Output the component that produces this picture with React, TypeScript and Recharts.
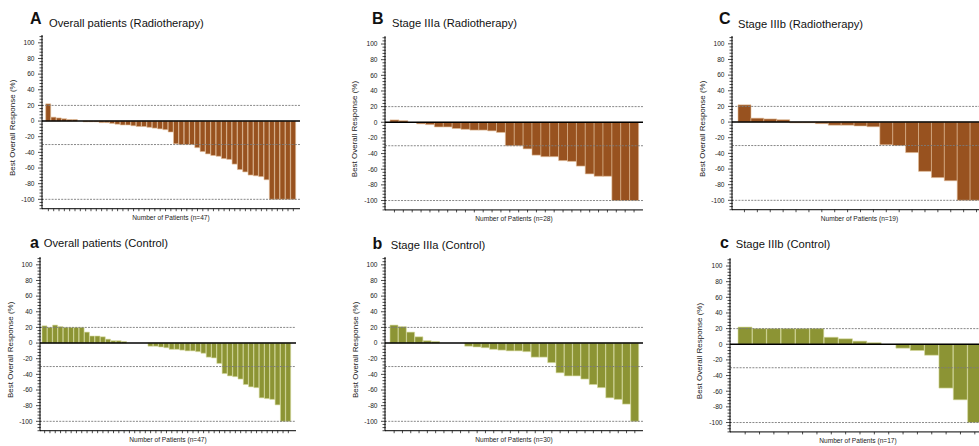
import { BarChart, Bar, XAxis, YAxis, ReferenceLine } from "recharts";

// best overall response (%) per patient
const radioOverall = [
  22, 5, 4, 3, 2, 2, 0, -1, -1, -1, -2, -2, -3, -4, -5, -5, -6, -7, -7, -8, -9, -10, -11, -14,
  -29, -30, -30, -30, -34, -39, -42, -44, -45, -48, -49, -55, -62, -65, -69, -70, -71, -75,
  -100, -100, -100, -100, -100,
];
const radioIIIa = [
  3, 2, 0, -2, -3, -6, -6, -8, -9, -10, -10, -11, -13, -30, -30, -34, -42, -44, -44, -49, -50,
  -56, -66, -69, -69, -100, -100, -100,
];
const radioIIIb = [22, 5, 4, 3, -1, -1, -2, -4, -4, -5, -6, -29, -30, -39, -63, -71, -75, -100, -100];
const ctrlOverall = [
  22, 20, 23, 21, 20, 20, 20, 20, 14, 9, 9, 8, 5, 3, 3, 2, 0, 0, 0, 0, -4, -4, -5, -6, -8, -8,
  -9, -10, -10, -11, -13, -18, -19, -26, -39, -42, -43, -46, -53, -56, -57, -70, -71, -72, -79,
  -100, -100,
];
const ctrlIIIa = [
  23, 21, 14, 8, 3, 2, 0, 0, 0, -4, -5, -6, -8, -9, -10, -10, -11, -18, -18, -25, -38, -42, -42,
  -46, -53, -57, -70, -72, -78, -100,
];
const ctrlIIIb = [22, 20, 20, 20, 20, 20, 9, 7, 4, 2, 0, -5, -8, -14, -56, -71, -100];

const majorTicks = [-100, -80, -60, -40, -20, 0, 20, 40, 60, 80, 100];
const refLevels = [20, -30, -100];
const yDomain: [number, number] = [-112, 110];

const yTicks: number[] = [];
for (let t = -112; t <= 108; t += 4) yTicks.push(t);

const K = 0.7825; // px per unit
const plotH = (yDomain[1] - yDomain[0]) * K;
const FONT = "Arial, 'Liberation Sans', Helvetica, sans-serif";

const BROWN = "#98521f";
const BROWN_EDGE = "#e2bd98";
const OLIVE = "#8c9434";
const OLIVE_EDGE = "#d6dba0";

const panels = [
  { letter: "A", title: "Overall patients (Radiotherapy)", values: radioOverall, color: BROWN, edge: BROWN_EDGE,
    left: 0, top: 0, mt: 35, width: 300, padL: 3.7, padR: 4, lx: 30, ly: 24, tx: 49, ty: 26.5 },
  { letter: "B", title: "Stage IIIa (Radiotherapy)", values: radioIIIa, color: BROWN, edge: BROWN_EDGE,
    left: 343, top: 0, mt: 36.2, width: 300, padL: 5, padR: 4.5, lx: 372, ly: 24, tx: 392, ty: 27 },
  { letter: "C", title: "Stage IIIb (Radiotherapy)", values: radioIIIb, color: BROWN, edge: BROWN_EDGE,
    left: 690, top: 0, mt: 36, width: 297, padL: 6, padR: 4, lx: 719, ly: 24, tx: 738, ty: 27.5 },
  { letter: "a", title: "Overall patients (Control)", values: ctrlOverall, color: OLIVE, edge: OLIVE_EDGE,
    left: -2, top: 222, mt: 35, width: 298, padL: 2, padR: 5, lx: 30, ly: 248, tx: 43.7, ty: 246.7 },
  { letter: "b", title: "Stage IIIa (Control)", values: ctrlIIIa, color: OLIVE, edge: OLIVE_EDGE,
    left: 343, top: 222, mt: 35, width: 300, padL: 5, padR: 4, lx: 372.5, ly: 249, tx: 390.7, ty: 249 },
  { letter: "c", title: "Stage IIIb (Control)", values: ctrlIIIb, color: OLIVE, edge: OLIVE_EDGE,
    left: 688, top: 222, mt: 36.2, width: 298, padL: 8, padR: 4, lx: 720, ly: 248, tx: 735.7, ty: 248.3 },
];

const YTick = (props: any) => {
  const { x, y, payload } = props;
  const v = payload.value;
  const major = majorTicks.includes(v);
  return (
    <g>
      <line x1={x - (major ? 4 : 2.5)} x2={x + 0.8} y1={y} y2={y} stroke="#000" strokeWidth={0.7} />
      {major && (
        <text x={x - 7.5} y={y} dy={2.3} textAnchor="end" fontSize={6.6} fill="#222" fontFamily={FONT}>
          {v}
        </text>
      )}
    </g>
  );
};

function Panel({ p }: { p: (typeof panels)[number] }) {
  const data = p.values.map((v, i) => ({ patient: i + 1, response: v }));
  const height = p.mt + plotH + 16;
  return (
    <div style={{ position: "absolute", left: p.left, top: p.top }}>
      <BarChart
        width={p.width}
        height={height}
        data={data}
        margin={{ top: p.mt, right: 0, bottom: 0, left: 0 }}
        barCategoryGap={0}
      >
        <XAxis
          dataKey="patient"
          interval={0}
          tickSize={2.5}
          tickFormatter={() => ""}
          axisLine={{ stroke: "#000" }}
          tickLine={{ stroke: "#000", strokeWidth: 0.7 }}
          height={16}
          padding={{ left: p.padL, right: p.padR }}
          label={{
            content: (lp: any) => {
              const vb = lp.viewBox || {};
              return (
                <text x={vb.x + vb.width / 2} y={vb.y + 11} textAnchor="middle" fontSize={6.6} fill="#222" fontFamily={FONT}>
                  {`Number of Patients (n=${p.values.length})`}
                </text>
              );
            },
          }}
        />
        <YAxis
          type="number"
          domain={yDomain}
          ticks={yTicks}
          interval={0}
          width={42}
          tickSize={0}
          tickMargin={0}
          axisLine={{ stroke: "#000" }}
          tickLine={false}
          tick={(tp: any) => <YTick {...tp} />}
          label={{
            content: (lp: any) => {
              const vb = lp.viewBox || {};
              const cx = vb.x + 14.5;
              const cy = vb.y + 111 * K + 6;
              return (
                <text x={cx} y={cy} transform={`rotate(-90 ${cx} ${cy})`} textAnchor="middle" fontSize={8} fill="#222" fontFamily={FONT}>
                  Best Overall Response  (%)
                </text>
              );
            },
          }}
        />
        <Bar dataKey="response" fill={p.color} stroke={p.edge} strokeWidth={0.6} isAnimationActive={false} />
        {refLevels.map((r) => (
          <ReferenceLine key={r} y={r} stroke="#7a7a7a" strokeDasharray="2 1.2" strokeWidth={0.9} />
        ))}
        <ReferenceLine y={0} stroke="#000" strokeWidth={1.6} />
      </BarChart>
    </div>
  );
}

export default function App() {
  return (
    <div
      style={{
        position: "absolute",
        left: 0,
        top: 0,
        width: 979,
        height: 446,
        overflow: "hidden",
        background: "#fff",
        fontFamily: FONT,
      }}
    >
      {panels.map((p) => (
        <Panel key={p.letter} p={p} />
      ))}
      <svg width={979} height={446} style={{ position: "absolute", left: 0, top: 0, pointerEvents: "none" }}>
        {panels.map((p) => (
          <g key={p.letter}>
            <text x={p.lx} y={p.ly} fontSize={16} fontWeight="bold" fill="#111" fontFamily={FONT}>
              {p.letter}
            </text>
            <text x={p.tx} y={p.ty} fontSize={11.2} fill="#111" fontFamily={FONT}>
              {p.title}
            </text>
          </g>
        ))}
      </svg>
    </div>
  );
}
